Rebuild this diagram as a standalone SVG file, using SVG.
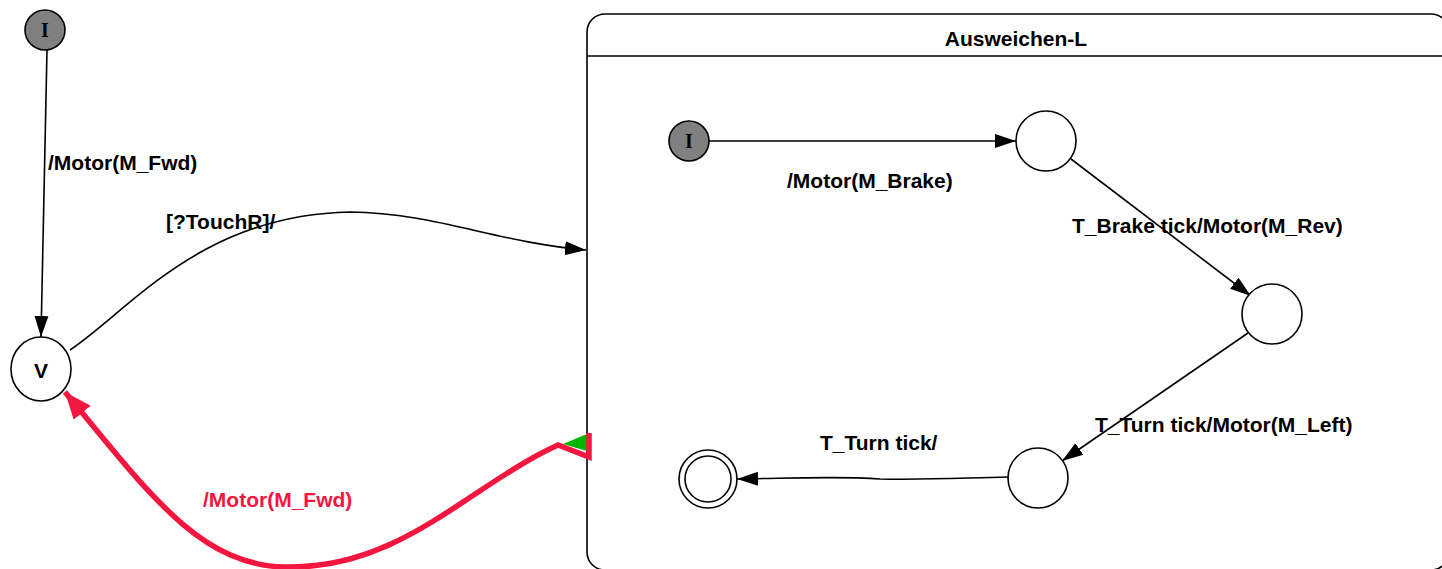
<svg xmlns="http://www.w3.org/2000/svg" width="1442" height="569" viewBox="0 0 1442 569">
<style>
.st{fill:#fff;stroke:#000;stroke-width:1.6}
.ini{fill:#808080;stroke:#000;stroke-width:1.6}
.it{font-family:"Liberation Serif",serif;font-weight:bold;font-size:20px;text-anchor:middle}
.lb{font-family:"Liberation Sans",Arial,sans-serif;font-weight:bold;font-size:21px}
.e{fill:none;stroke:#000;stroke-width:1.6}
.red{fill:none;stroke:#f4163f;stroke-width:5.5}
</style>
<defs>
<marker id="ah" markerWidth="22" markerHeight="16" refX="21" refY="8" orient="auto" markerUnits="userSpaceOnUse">
<path d="M0,1 L21,8 L0,15 Z" fill="#000"/>
</marker>
<marker id="ahr" markerWidth="28" markerHeight="24" refX="27" refY="12" orient="auto" markerUnits="userSpaceOnUse">
<path d="M0,1 L27,12 L0,23 Z" fill="#f4163f"/>
</marker>
</defs>
<g id="container">
<rect x="587" y="14" width="862" height="556" rx="18" ry="18" class="st"/>
<line x1="587" y1="56" x2="1449" y2="56" stroke="#000" stroke-width="1.6"/>
<text x="1016" y="46" class="lb" text-anchor="middle" font-size="21.5">Ausweichen-L</text>
</g>
<g id="connectors">
<line x1="47" y1="50" x2="41" y2="337" class="e" marker-end="url(#ah)"/>
<text x="48" y="170" class="lb">/Motor(M_Fwd)</text>
<path d="M70,350 C130,310 200,215 350,212 C435,213 495,242 586,250" class="e" marker-end="url(#ah)"/>
<text x="166" y="229" class="lb">[?TouchR]/</text>
<line x1="709" y1="141" x2="1016" y2="141" class="e" marker-end="url(#ah)"/>
<text x="787" y="188" class="lb">/Motor(M_Brake)</text>
<line x1="1071" y1="159" x2="1251" y2="296" class="e" marker-end="url(#ah)"/>
<text x="1072" y="233" class="lb">T_Brake tick/Motor(M_Rev)</text>
<line x1="1248" y1="333" x2="1062" y2="461" class="e" marker-end="url(#ah)"/>
<text x="1095" y="432" class="lb">T_Turn tick/Motor(M_Left)</text>
<path d="M1008,477 C960,478 930,480 880,479 C840,476 800,478 737,479" class="e" marker-end="url(#ah)"/>
<text x="820" y="450" class="lb">T_Turn tick/</text>
<polygon points="563,444 587,434 587,451" fill="#00b400"/>
<path d="M589,433 L589,457 L558,445 C470,485 400,570 285,567 C200,565 150,495 65,392" class="red" stroke-linejoin="miter" marker-end="url(#ahr)"/>
<text x="203" y="507" class="lb" fill="#f4163f">/Motor(M_Fwd)</text>
</g>
<g id="init-outer">
<circle cx="45" cy="30" r="20" class="ini"/>
<text x="45" y="37" class="it">I</text>
</g>
<g id="state-V">
<ellipse cx="41" cy="369" rx="30" ry="32" class="st"/>
<text x="41" y="378" class="lb" text-anchor="middle">V</text>
</g>
<g id="init-inner">
<circle cx="689" cy="141" r="20" class="ini"/>
<text x="689" y="148" class="it">I</text>
</g>
<g id="state-A">
<circle cx="1046" cy="141" r="30" class="st"/>
</g>
<g id="state-B">
<circle cx="1272" cy="314" r="30" class="st"/>
</g>
<g id="state-C">
<circle cx="1038" cy="478" r="30" class="st"/>
</g>
<g id="final">
<circle cx="708" cy="479" r="29" class="st"/>
<circle cx="708" cy="479" r="23" class="st"/>
</g>
</svg>
